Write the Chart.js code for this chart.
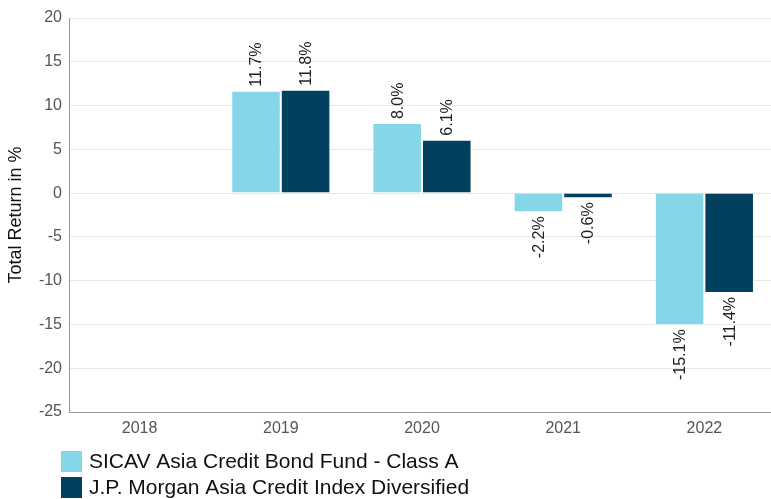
<!DOCTYPE html>
<html>
<head>
<meta charset="utf-8">
<script src="https://cdn.jsdelivr.net/npm/chart.js@4"></script>
<style>
  body { margin: 0; background: #fff; }
  #wrap { width: 771px; height: 499px; overflow: hidden; }
</style>
</head>
<body>
<div id="wrap"><canvas id="returns-chart" width="775" height="499"></canvas></div>
<script>
var years = ["2018", "2019", "2020", "2021", "2022"];
var fundReturns = [null, 11.7, 8.0, -2.2, -15.1];
var indexReturns = [null, 11.8, 6.1, -0.6, -11.4];
var seriesNames = ["SICAV Asia Credit Bond Fund - Class A", "J.P. Morgan Asia Credit Index Diversified"];
var seriesColors = ["#84d6e8", "#02405f"];

// value labels, rotated, above / below each bar
var barLabels = {
  id: "barLabels",
  afterDatasetsDraw: function (chart) {
    var c = chart.ctx;
    c.save();
    c.font = "16px 'Liberation Sans', Arial, sans-serif";
    c.fillStyle = "#222";
    c.textBaseline = "middle";
    chart.data.datasets.forEach(function (ds, i) {
      chart.getDatasetMeta(i).data.forEach(function (bar, j) {
        var v = ds.data[j];
        if (v === null) return;
        c.save();
        c.translate(bar.x, v >= 0 ? bar.y - 4 : bar.y + 4);
        c.rotate(-Math.PI / 2);
        c.textAlign = v >= 0 ? "left" : "right";
        c.fillText(v.toFixed(1) + "%", 0, 1);
        c.restore();
      });
    });
    c.restore();
  }
};

// two-row legend at bottom left
var bottomLegend = {
  id: "bottomLegend",
  afterDraw: function (chart) {
    var c = chart.ctx;
    c.save();
    c.font = "21px 'Liberation Sans', Arial, sans-serif";
    c.textBaseline = "middle";
    chart.data.datasets.forEach(function (ds, i) {
      var y = 451 + i * 26;
      c.fillStyle = ds.backgroundColor;
      c.fillRect(61, y, 21, 21);
      c.fillStyle = "#111";
      c.fillText(ds.label, 89, y + 11);
    });
    c.restore();
  }
};

new Chart(document.getElementById("returns-chart"), {
  type: "bar",
  data: {
    labels: years,
    datasets: [
      { label: seriesNames[0], data: fundReturns, backgroundColor: seriesColors[0], borderColor: "#ffffff", borderWidth: 1 },
      { label: seriesNames[1], data: indexReturns, backgroundColor: seriesColors[1], borderColor: "#ffffff", borderWidth: 1 }
    ]
  },
  options: {
    responsive: false,
    animation: false,
    layout: { padding: { top: 18, right: 0, bottom: 57, left: 0 } },
    datasets: { bar: { categoryPercentage: 0.702, barPercentage: 1.0 } },
    plugins: { legend: { display: false }, tooltip: { enabled: false } },
    scales: {
      x: {
        grid: { display: false, drawTicks: false },
        border: { color: "#999" },
        ticks: { color: "#555", font: { size: 16, family: "'Liberation Sans', Arial" }, padding: 7 },
        afterFit: function (s) { s.height = 30; }
      },
      y: {
        min: -25, max: 20,
        grid: { color: "#e6e6e6", drawTicks: false },
        border: { color: "#999" },
        ticks: { stepSize: 5, color: "#555", font: { size: 16, family: "'Liberation Sans', Arial" }, padding: 7 },
        title: { display: true, text: "Total Return in %", color: "#111", font: { size: 18, family: "'Liberation Sans', Arial" }, padding: { top: 5, bottom: 0 } },
        afterFit: function (s) { s.width = 69; }
      }
    }
  },
  plugins: [barLabels, bottomLegend]
});
</script>
</body>
</html>
